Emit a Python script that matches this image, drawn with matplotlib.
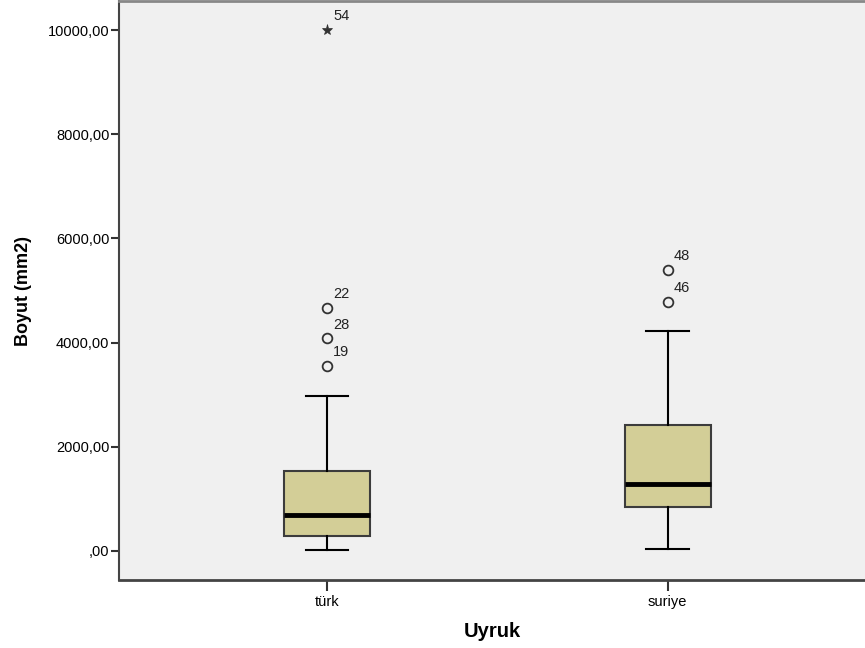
import matplotlib.pyplot as plt
from matplotlib.ticker import FuncFormatter

plt.rcParams['font.family'] = ['Liberation Sans', 'DejaVu Sans']

groups = ["türk", "suriye"]
q1 = [288, 851]
medians = [697, 1280]
q3 = [1541, 2412]
whisker_low = [13, 33]
whisker_high = [2981, 4217]

# mild outliers (circles) with their case numbers
outlier_vals = [[3557, 4083, 4670], [4785, 5393]]
outlier_ids = [["19", "28", "22"], ["46", "48"]]
# extreme outliers (stars)
extreme_vals = [[10000], []]
extreme_ids = [["54"], []]

box_color = "#d3ce97"
edge = "#3c3c3c"

fig = plt.figure(figsize=(8.65, 6.48), dpi=100)
ax = fig.add_axes([119/865, 68/648, 746/865, 579/648])
ax.set_facecolor("#f0f0f0")

stats = []
for i in range(len(groups)):
    stats.append({"label": groups[i], "q1": q1[i], "med": medians[i], "q3": q3[i],
                  "whislo": whisker_low[i], "whishi": whisker_high[i], "fliers": []})

positions = [1, 2]
ax.bxp(stats, positions=positions, widths=0.252, patch_artist=True, showfliers=False,
       boxprops=dict(facecolor=box_color, edgecolor=edge, linewidth=1.5),
       medianprops=dict(color="black", linewidth=3.5),
       whiskerprops=dict(color="black", linewidth=1.5),
       capprops=dict(color="black", linewidth=1.5),
       capwidths=0.125)

for i, pos in enumerate(positions):
    for v, lab in zip(outlier_vals[i], outlier_ids[i]):
        ax.plot(pos, v, marker="o", markersize=7, markerfacecolor="none",
                markeredgecolor="#333333", markeredgewidth=1.3, linestyle="none")
        ax.annotate(lab, (pos, v), xytext=(4.5, 7), textcoords="offset points",
                    fontsize=10.5, color="#222222")
    for v, lab in zip(extreme_vals[i], extreme_ids[i]):
        ax.plot(pos, v, marker="*", markersize=8, color="#333333",
                markeredgewidth=0.5, linestyle="none")
        ax.annotate(lab, (pos, v), xytext=(4.5, 7), textcoords="offset points",
                    fontsize=10.5, color="#222222")

ax.set_xlim(0.3895, 2.579)
ax.set_ylim(-557, 10557)
ax.set_xticks(positions)
ax.set_xticklabels(groups)
ax.set_yticks([0, 2000, 4000, 6000, 8000, 10000])
ax.yaxis.set_major_formatter(FuncFormatter(lambda v, p: ",00" if v == 0 else "{:.0f},00".format(v)))

ax.tick_params(axis="y", length=6, width=1.5, color="#333333", labelsize=10.5, pad=1)
ax.tick_params(axis="x", length=8, width=1.5, color="#333333", labelsize=10.5, pad=3)

ax.spines["left"].set_color("#444444")
ax.spines["left"].set_linewidth(1.5)
ax.spines["bottom"].set_color("#444444")
ax.spines["bottom"].set_linewidth(2)
ax.spines["top"].set_color("#888888")
ax.spines["top"].set_linewidth(2)
ax.spines["right"].set_visible(False)

ax.set_ylabel("Boyut (mm2)", fontsize=13, fontweight="bold", labelpad=11)
ax.set_xlabel("Uyruk", fontsize=14.5, fontweight="bold", labelpad=9)

plt.savefig("out.png", dpi=100)
